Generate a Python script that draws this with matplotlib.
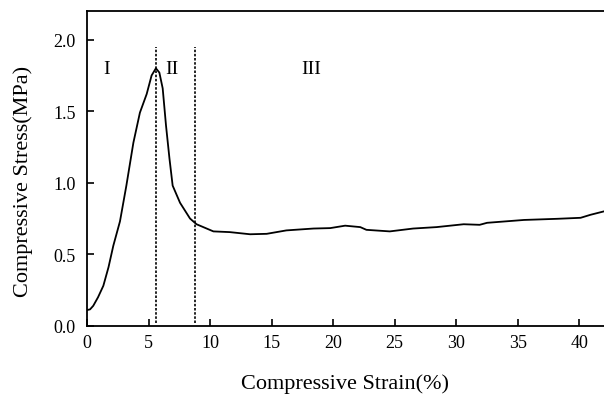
import matplotlib
matplotlib.use("Agg")
import matplotlib.pyplot as plt

strain = [0.0, 0.25, 0.51, 0.9, 1.33, 1.75, 2.14, 2.68, 3.2, 3.77, 4.3, 4.85, 5.25, 5.6, 5.88, 6.15,
          6.42, 6.7, 6.96, 7.56, 8.37, 8.9, 10.27, 11.6, 13.25, 14.6, 16.2, 18.4, 19.76, 20.97,
          22.2, 22.7, 24.6, 26.5, 28.4, 30.6, 31.9, 32.5, 35.5, 38.2, 40.1, 40.9, 42.0]
stress = [0.11, 0.115, 0.14, 0.2, 0.28, 0.41, 0.56, 0.73, 0.98, 1.28, 1.49, 1.62, 1.75, 1.80, 1.77, 1.66,
          1.40, 1.17, 0.98, 0.86, 0.75, 0.71, 0.66, 0.655, 0.64, 0.643, 0.667, 0.68, 0.683, 0.70,
          0.69, 0.671, 0.66, 0.68, 0.69, 0.71, 0.706, 0.72, 0.74, 0.748, 0.755, 0.776, 0.80]
boundaries = [5.6, 8.8]
regions = ["I", "II", "III"]
region_x = [1.6, 6.9, 18.2]

plt.rcParams['font.family'] = ['Liberation Serif', 'DejaVu Serif']
fig = plt.figure(figsize=(6.04, 4.02), dpi=100)
ax = fig.add_axes([0.144, 0.187, 0.856, 0.783])
ax.plot(strain, stress, color='black', lw=1.3)
for b in boundaries:
    ax.plot([b, b], [0.02, 1.95], color='black', lw=1.2, ls=(0, (1.5, 1)))
for t, xx in zip(regions, region_x):
    ax.text(xx, 1.8, t, ha='center', va='center', fontsize=14)
ax.set_xlim(0, 42)
ax.set_ylim(0, 2.2)
ax.set_xticks([0, 5, 10, 15, 20, 25, 30, 35, 40])
ax.set_yticks([0.0, 0.5, 1.0, 1.5, 2.0])
ax.set_yticklabels(["0.0", "0.5", "1.0", "1.5", "2.0"])
ax.tick_params(direction='in', labelsize=13, length=5, width=1.2, colors='black')
ax.tick_params(axis='x', pad=6)
ax.tick_params(axis='y', pad=8)
ax.spines['right'].set_visible(False)
for s in ['left', 'bottom', 'top']:
    ax.spines[s].set_linewidth(1.3)
ax.set_xlabel("Compressive Strain(%)", fontsize=16, labelpad=16)
ax.set_ylabel("Compressive Stress(MPa)", fontsize=16)
ax.yaxis.set_label_coords(-0.104, 0.463)
fig.savefig("out.png", dpi=100)
